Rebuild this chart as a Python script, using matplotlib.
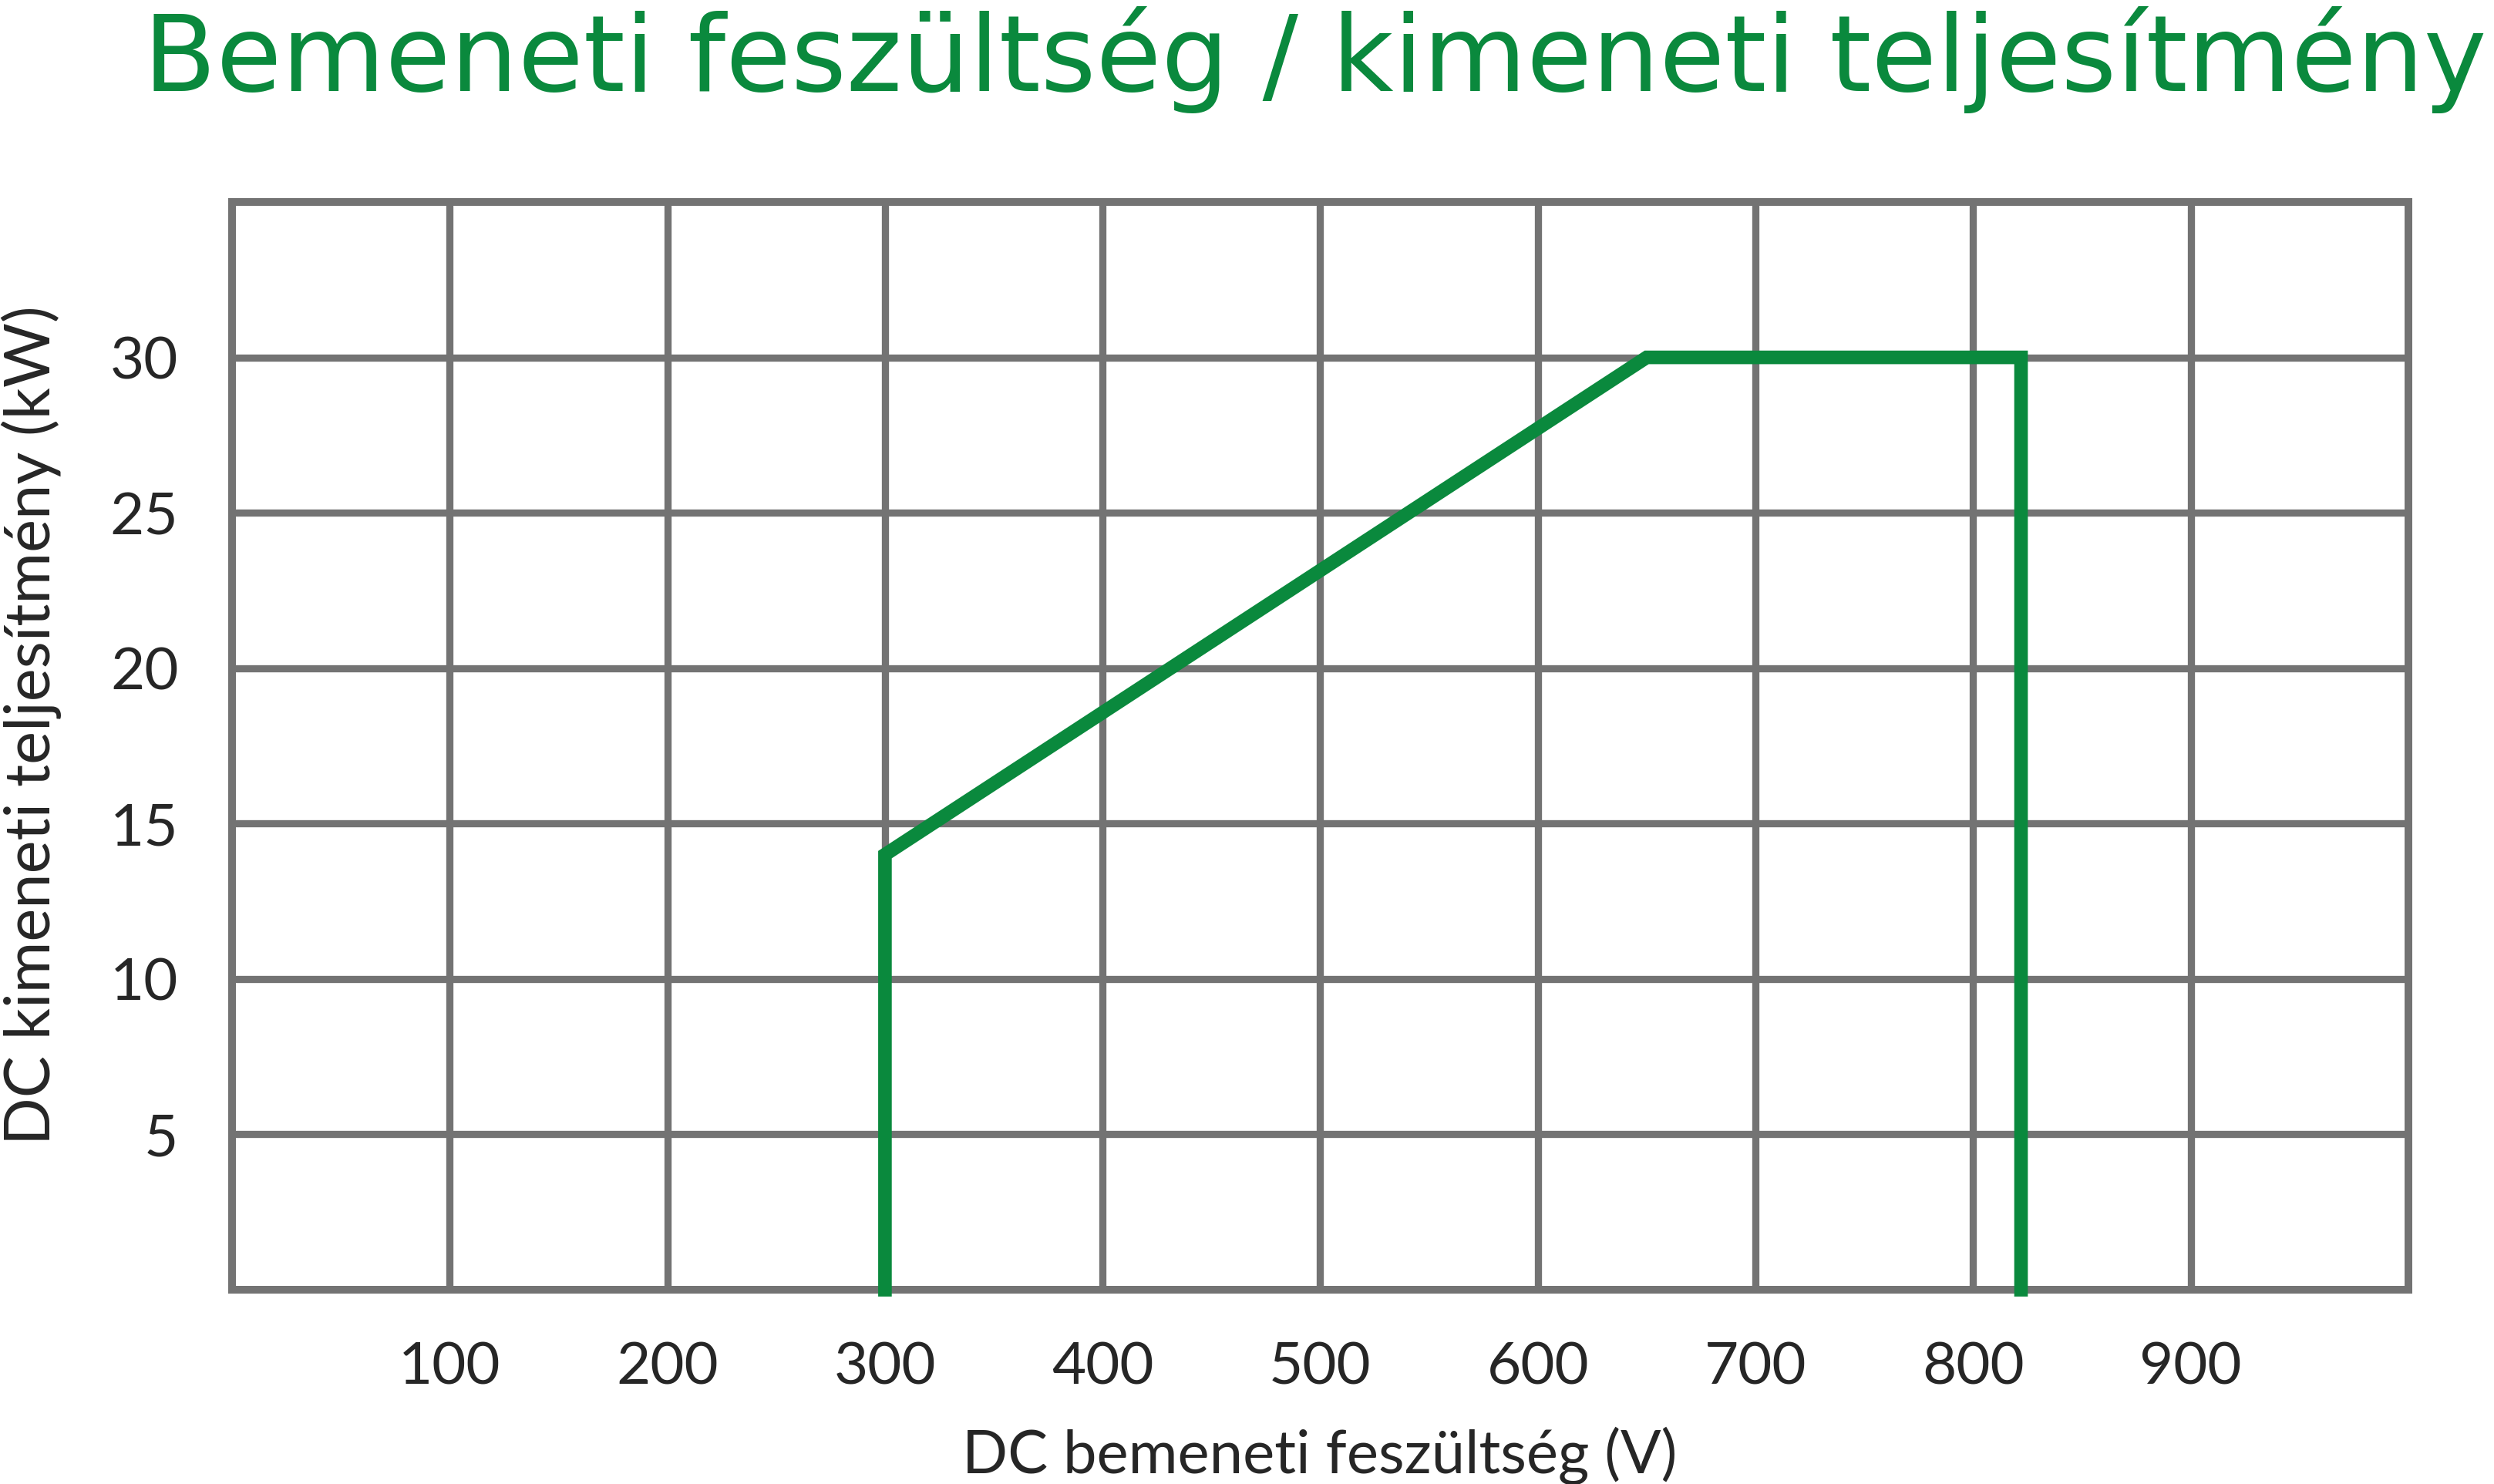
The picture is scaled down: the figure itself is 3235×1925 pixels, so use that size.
import matplotlib
matplotlib.use('Agg')
import matplotlib.pyplot as plt

# DC input voltage (V) vs DC output power (kW) - operating envelope
voltage = [300, 300, 650, 822, 822]
power = [0, 14, 30, 30, 0]

x_ticks = [100, 200, 300, 400, 500, 600, 700, 800, 900]
y_ticks = [5, 10, 15, 20, 25, 30]

green = '#0a893d'
grid_gray = '#737373'
text_dark = '#262626'

plt.rcParams['font.family'] = ['Lato', 'DejaVu Sans']

fig = plt.figure(figsize=(32.35, 19.25), dpi=100)
ax = fig.add_axes([301/3235, 1 - 1673/1925, (3124-301)/3235, (1673-262)/1925])

ax.set_xlim(0, 1000)
ax.set_ylim(0, 35)
ax.set_xticks(x_ticks)
ax.set_yticks(y_ticks)
ax.tick_params(length=0, labelsize=55, colors=text_dark)
ax.tick_params(axis='x', pad=48)
ax.tick_params(axis='y', pad=50)
ax.grid(True, color=grid_gray, linewidth=6.7)
ax.set_axisbelow(True)
for s in ax.spines.values():
    s.set_color(grid_gray)
    s.set_linewidth(7.2)

ax.plot(voltage, power, color=green, linewidth=12.7,
        solid_capstyle='projecting', solid_joinstyle='miter', clip_on=False, zorder=3)

# title font is wider than Lato in the original, DejaVu fits it better
fig.text(186/3235, 1 - 118/1925, 'Bemeneti feszültség / kimeneti teljesítmény',
         fontsize=99.2, color=green, ha='left', va='baseline', family='DejaVu Sans')
fig.text(1712/3235, 1 - 1911/1925, 'DC bemeneti feszültség (V)',
         fontsize=56, color=text_dark, ha='center', va='baseline')
fig.text(41/3235, 1 - 941/1925, 'DC kimeneti teljesítmény (kW)',
         fontsize=58.5, color=text_dark, ha='center', va='center', rotation=90)

plt.savefig('out.png', dpi=100)
